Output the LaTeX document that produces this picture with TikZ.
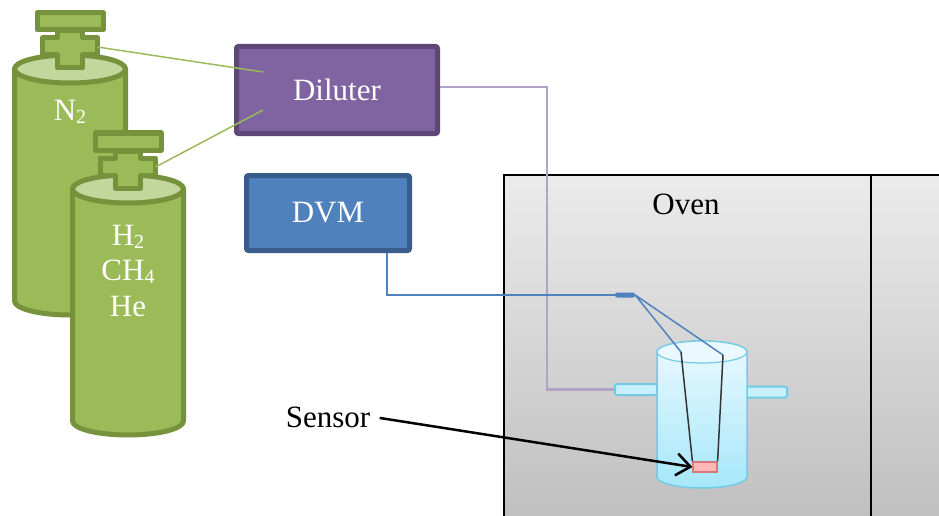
\documentclass[tikz,border=0pt]{standalone}
\usepackage{fontspec}
\setmainfont{Liberation Serif}
\usetikzlibrary{calc,arrows.meta}

\definecolor{bottlegreen}{HTML}{9BBB59}
\definecolor{bottleline}{HTML}{76923C}
\definecolor{bottletop}{HTML}{C3D69B}
\definecolor{dilfill}{HTML}{8064A2}
\definecolor{dilline}{HTML}{5C4776}
\definecolor{dvmfill}{HTML}{4F81BD}
\definecolor{dvmline}{HTML}{385D8A}
\definecolor{feedpurple}{HTML}{B3A2C7}
\definecolor{vesseltop}{HTML}{EAF9FF}
\definecolor{vesselbot}{HTML}{A6E7FA}
\definecolor{vesselline}{HTML}{72CBE3}
\definecolor{portfill}{HTML}{C8F0FC}
\definecolor{heaterpink}{HTML}{FFB7B7}
\definecolor{heaterline}{HTML}{D8777A}
\definecolor{oventop}{HTML}{EBEBEB}
\definecolor{ovenbot}{HTML}{BEBEBE}

% lowered subscript digit for the gas names
\newcommand{\chemsub}[1]{\raisebox{-3pt}{\fontsize{20}{20}\selectfont #1}}

\begin{document}
\begin{tikzpicture}[x=1pt, y=-1pt,
    every node/.style={font=\fontsize{31}{36}\selectfont},
    box/.style={draw, line width=5pt, rounded corners=2pt, text=white, inner sep=0pt},
    bottletext/.style={text=white, font=\fontsize{31}{35}\selectfont},
    gasline/.style={bottlegreen, line width=1.5pt},
    feedline/.style={feedpurple, line width=2.2pt},
    sigline/.style={dvmfill, line width=1.5pt},
    wire/.style={black!80, line width=1.5pt},
    port/.style={draw=vesselline, fill=portfill, line width=2pt, rounded corners=1.5pt,
      minimum width=42pt, minimum height=11pt, inner sep=0pt},
    bottle/.pic={
      % body and top
      \filldraw[fill=bottlegreen, draw=bottleline, line width=5pt, line join=round]
        (-55.5,0) -- (-55.5,232)
        arc[start angle=180, end angle=360, x radius=55.5pt, y radius=14pt]
        -- (55.5,0) -- cycle;
      \filldraw[fill=bottletop, draw=bottleline, line width=5pt]
        (0,0) ellipse[x radius=55.5pt, y radius=14pt];
      % valve
      \filldraw[fill=bottlegreen, draw=bottleline, line width=5pt, line join=round]
        (-12.5,-38) -- (12.5,-38) -- (12.5,-31) -- (27.5,-31) -- (27.5,-14)
        -- (12.5,-14) -- (12.5,-1) -- (-12.5,-1) -- (-12.5,-14) -- (-27.5,-14)
        -- (-27.5,-31) -- (-12.5,-31) -- cycle;
      \filldraw[fill=bottlegreen, draw=bottleline, line width=5pt, line join=round]
        (-33,-56) rectangle (33,-39);
      \coordinate (-valve) at (27.5,-22);
    }]
  \useasboundingbox (0,0) rectangle (939,516);

  % oven
  \draw[line width=1.5pt, top color=oventop, bottom color=ovenbot] (504,175) rectangle (950,530);
  \draw[line width=1.5pt] (871,175) -- (871,520);
  \node (ovenlbl) at (686,204) {Oven};

  % gas bottles
  \pic (n2) at (70,69) {bottle};
  \pic (h2) at (128,189) {bottle};
  \node[bottletext] (n2lbl) at (70,112) {N\chemsub{2}};
  \node[bottletext] (h2lbl) at (128,237) {H\chemsub{2}};
  \node[bottletext] (ch4lbl) at (128,272) {CH\chemsub{4}};
  \node[bottletext] (helbl) at (128,306) {He};

  % diluter and voltmeter
  \node[box, fill=dilfill, draw=dilline, minimum width=201pt, minimum height=87pt] (dil) at (337,90) {Diluter};
  \node[box, fill=dvmfill, draw=dvmline, minimum width=163pt, minimum height=75pt] (dvm) at (328,213) {DVM};

  \draw[gasline] (n2-valve) -- ($(dil.west)+(29,-18)$);
  \draw[gasline] (h2-valve) -- ($(dil.west)+(29,20)$);

  % test chamber
  \node[port] (portl) at (636,389.5) {};
  \node[port] (portr) at (766,392) {};
  \draw[vesselline, line width=1.5pt, top color=vesseltop, bottom color=vesselbot]
    (657,352) -- (657,477)
    arc[start angle=180, end angle=360, x radius=45pt, y radius=11pt]
    -- (747,352)
    arc[start angle=0, end angle=180, x radius=45pt, y radius=11pt] -- cycle;
  \draw[vesselline, line width=1.2pt, fill=vesseltop]
    (702,352) ellipse[x radius=45pt, y radius=11pt];

  % gas feed
  \coordinate (bend) at (547,389.5);
  \draw[feedline] ($(dil.east)+(0,-3)$) -| (bend) -- (portl.west);

  % sensor leads
  \node[draw=heaterline, fill=heaterpink, line width=1.2pt, minimum width=24pt, minimum height=10pt, inner sep=0pt] (sens) at (705,467) {};
  \node[fill=dvmfill, rounded corners=2pt, minimum width=20pt, minimum height=5pt, inner sep=0pt] (plug) at (625,295) {};
  \coordinate (wa) at (681,352);
  \coordinate (wb) at (723,355);
  \coordinate (dvmout) at ($(dvm.south)+(59,0)$);
  \draw[sigline] (dvmout) |- (plug.west);
  \draw[sigline] (plug.east) -- (wa);
  \draw[sigline] (plug.east) -- (wb);
  \draw[wire] (wa) -- (sens.north west);
  \draw[wire] (wb) -- (sens.north east);

  \node (snsl) at (328,417) {Sensor};
  \draw[line width=2.5pt, -{Straight Barb[length=14pt, width=22pt]}, shorten <=6pt] (snsl.east) -- (sens.west);
\end{tikzpicture}
\end{document}
